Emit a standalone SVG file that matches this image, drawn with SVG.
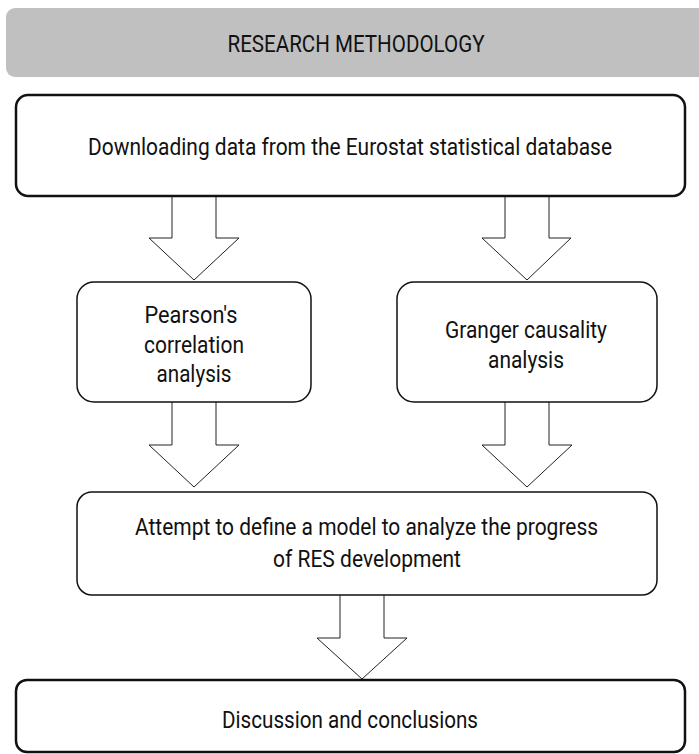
<svg xmlns="http://www.w3.org/2000/svg" width="699" height="754" viewBox="0 0 699 754">
<style>
text{font-family:"Roboto","Liberation Sans",sans-serif;fill:#111;text-anchor:middle}
.t{font-size:23px}
.box{fill:#fff;stroke:#111;stroke-width:1.5}
.bold{fill:#fff;stroke:#111;stroke-width:2.5}
.arr{fill:#fff;stroke:#222;stroke-width:1}
</style>
<rect width="699" height="754" fill="#fff"/>
<g id="header">
<rect x="6" y="8" width="705" height="69" rx="9" fill="#c0c0c0"/>
<text x="356" y="52" font-size="24" textLength="257" lengthAdjust="spacingAndGlyphs">RESEARCH METHODOLOGY</text>
</g>
<g id="connectors">
<path class="arr" d="M172,196 V238 H149 L194,280 L239,238 H216 V196"/>
<path class="arr" d="M505,196 V238 H482 L527,280 L571,238 H549 V196"/>
<path class="arr" d="M172,402 V445 H149 L194,487 L239,445 H216 V402"/>
<path class="arr" d="M505,402 V445 H482 L527,487 L572,445 H549 V402"/>
<path class="arr" d="M340,594 V638 H317 L362,679 L407,638 H384 V594"/>
</g>
<g id="n1">
<rect class="bold" x="16" y="95" width="669" height="101" rx="12"/>
<text class="t" x="350" y="155" textLength="524" lengthAdjust="spacingAndGlyphs">Downloading data from the Eurostat statistical database</text>
</g>
<g id="n2">
<rect class="box" x="77" y="282" width="234" height="120" rx="17"/>
<text class="t" x="191" y="323" textLength="93" lengthAdjust="spacingAndGlyphs">Pearson's</text>
<text class="t" x="194" y="353" textLength="100" lengthAdjust="spacingAndGlyphs">correlation</text>
<text class="t" x="194" y="382" textLength="75" lengthAdjust="spacingAndGlyphs">analysis</text>
</g>
<g id="n3">
<rect class="box" x="397" y="282" width="260" height="120" rx="17"/>
<text class="t" x="526" y="338" textLength="162" lengthAdjust="spacingAndGlyphs">Granger causality</text>
<text class="t" x="526" y="368" textLength="76" lengthAdjust="spacingAndGlyphs">analysis</text>
</g>
<g id="n4">
<rect class="box" x="77" y="492" width="580" height="103" rx="15"/>
<text class="t" x="366.5" y="535" textLength="463" lengthAdjust="spacingAndGlyphs">Attempt to define a model to analyze the progress</text>
<text class="t" x="367" y="567" textLength="188" lengthAdjust="spacingAndGlyphs">of RES development</text>
</g>
<g id="n5">
<rect class="bold" x="16" y="680" width="669" height="72" rx="11"/>
<text class="t" x="350" y="728" textLength="256" lengthAdjust="spacingAndGlyphs">Discussion and conclusions</text>
</g>
</svg>
